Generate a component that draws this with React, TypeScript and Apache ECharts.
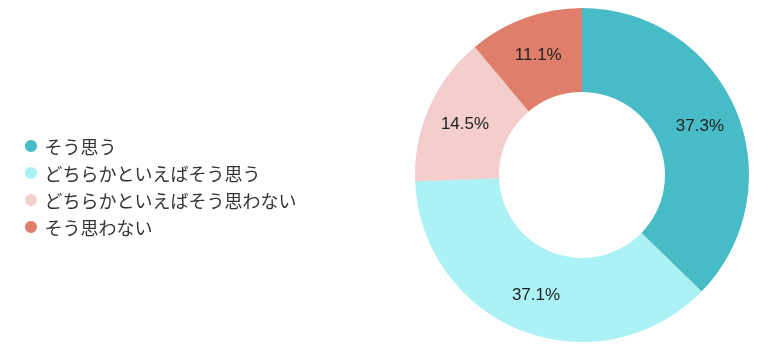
import React, { useEffect, useRef } from "react";
import * as echarts from "echarts";

const categories = [
  "そう思う",
  "どちらかといえばそう思う",
  "どちらかといえばそう思わない",
  "そう思わない",
];
const values = [37.3, 37.1, 14.5, 11.1];
const colors = ["#48bcc6", "#acf1f5", "#f4cdcd", "#df7f6b"];

export default function App() {
  const ref = useRef<HTMLDivElement>(null);
  useEffect(() => {
    if (!ref.current) return;
    const chart = echarts.init(ref.current, undefined, { renderer: "svg" });
    chart.setOption({
      animation: false,
      color: colors,
      legend: {
        orient: "vertical",
        left: 20,
        top: 132,
        icon: "circle",
        itemWidth: 17,
        itemHeight: 12,
        itemGap: 9,
        textStyle: {
          fontSize: 18,
          color: "#333",
          fontFamily: "'Noto Sans CJK JP', sans-serif",
        },
        data: categories,
      },
      series: [
        {
          type: "pie",
          center: [582, 175],
          radius: [83, 167],
          startAngle: 90,
          clockwise: true,
          label: {
            show: true,
            position: "inside",
            formatter: (p: any) => p.value.toFixed(1) + "%",
            fontSize: 17,
            color: "#222",
            fontFamily: "'Liberation Sans', Arial, sans-serif",
          },
          labelLine: { show: false },
          emphasis: { disabled: true },
          itemStyle: { borderWidth: 0 },
          data: categories.map((name, i) => ({ name, value: values[i] })),
        },
      ],
    });
    return () => chart.dispose();
  }, []);
  return (
    <div
      ref={ref}
      style={{ position: "fixed", left: 0, top: 0, width: 780, height: 355 }}
    />
  );
}
